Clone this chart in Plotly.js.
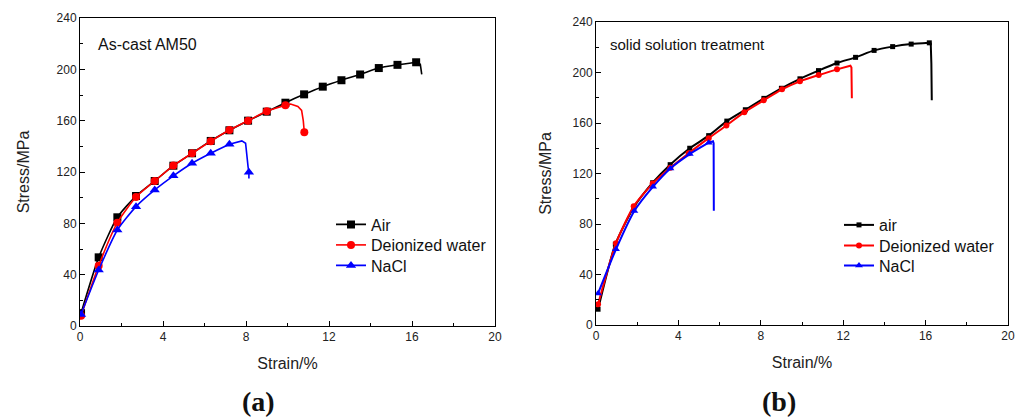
<!DOCTYPE html>
<html>
<head>
<meta charset="utf-8">
<script src="https://cdn.plot.ly/plotly-3.0.1.min.js"></script>
<style>html,body{margin:0;padding:0;background:#fff;}#chart{width:1024px;height:417px;}</style>
</head>
<body>
<div id="chart"></div>
<script>
// ---- Panel (a): As-cast AM50 ----
const seriesNamesA = ["Air", "Deionized water", "NaCl"];
const airA_x = [0.05, 0.9, 1.8, 2.7, 3.6, 4.5, 5.4, 6.3, 7.2, 8.1, 9.0, 9.9, 10.8, 11.7, 12.6, 13.5, 14.4, 15.3, 16.2];
const airA_y = [10, 53.5, 84.7, 101.3, 113, 124.9, 134.6, 144.2, 152.5, 160, 167, 174, 180.5, 186.5, 191.5, 196, 201, 203.5, 205.5];
const airA_tailx = [16.2, 16.4, 16.47];
const airA_taily = [205.5, 204, 196];
const diwA_x = [0.05, 0.9, 1.8, 2.7, 3.6, 4.5, 5.4, 6.3, 7.2, 8.1, 9.0, 9.9];
const diwA_y = [8, 47, 80.5, 100.5, 113, 125, 134.6, 144, 152.7, 160, 167.3, 172];
const diwA_tailx = [9.9, 10.15, 10.5, 10.68, 10.76, 10.81];
const diwA_taily = [172, 173, 171, 168, 160, 151];
const diwA_endx = [10.81];
const diwA_endy = [151];
const naclA_x = [0.05, 0.9, 1.8, 2.7, 3.6, 4.5, 5.4, 6.3, 7.2];
const naclA_y = [9, 43.6, 74.8, 93, 106, 117, 126.8, 134.6, 141.6];
const naclA_tailx = [7.2, 7.8, 7.98, 8.03, 8.1, 8.14, 8.14];
const naclA_taily = [141.6, 144.2, 142.4, 132, 124, 119.8, 115];
const naclA_endx = [8.14];
const naclA_endy = [119.8];

// ---- Panel (b): solid solution treatment ----
const seriesNamesB = ["air", "Deionized water", "NaCl"];
const airB_x = [0.1, 0.94, 1.83, 2.75, 3.6, 4.55, 5.47, 6.35, 7.25, 8.15, 9.0, 9.9, 10.8, 11.7, 12.6, 13.5, 14.4, 15.3, 16.18];
const airB_y = [12.5, 64, 93, 112.7, 127, 140, 150, 161.5, 170.5, 179.5, 187.5, 195, 201.5, 207.5, 212, 217.5, 220.5, 222.5, 223.5];
const airB_tailx = [16.18, 16.25, 16.28, 16.3];
const airB_taily = [223.5, 223, 207, 178];
const diwB_x = [0.1, 0.97, 1.83, 2.75, 3.61, 4.5, 5.47, 6.33, 7.2, 8.14, 9.03, 9.9, 10.81, 11.7];
const diwB_y = [16.4, 64.7, 94, 112, 124.5, 136, 148, 158, 168.6, 178, 186.7, 193, 198, 202.5];
const diwB_tailx = [11.7, 12.35, 12.4, 12.42];
const diwB_taily = [202.5, 205.4, 204, 179.6];
const naclB_x = [0.1, 0.97, 1.86, 2.77, 3.61, 4.55, 5.47];
const naclB_y = [25, 60, 90.3, 109.6, 124, 135.4, 144.4];
const naclB_tailx = [5.47, 5.68, 5.71, 5.72];
const naclB_taily = [144.4, 145.5, 144, 90.5];

const xTicks = [0, 4, 8, 12, 16, 20];
const yTicks = [0, 40, 80, 120, 160, 200, 240];

const FONT = "Arial, 'Liberation Sans', sans-serif";
const colors = ["#000000", "#ff0000", "#0000ff"];
const symbols = ["square", "circle", "triangle-up"];

function mainTrace(x, y, i, name, xa, ya, leg, msize, lw) {
  return {x: x, y: y, name: name, mode: "lines+markers", type: "scatter",
    xaxis: xa, yaxis: ya, legend: leg,
    line: {color: colors[i], width: lw, shape: "spline", smoothing: 0.6},
    marker: {color: colors[i], symbol: symbols[i], size: msize}};
}
function tailTrace(x, y, i, xa, ya, lw) {
  return {x: x, y: y, mode: "lines", type: "scatter", showlegend: false,
    xaxis: xa, yaxis: ya, line: {color: colors[i], width: lw}};
}
function endTrace(x, y, i, xa, ya, msize) {
  return {x: x, y: y, mode: "markers", type: "scatter", showlegend: false,
    xaxis: xa, yaxis: ya, marker: {color: colors[i], symbol: symbols[i], size: msize}};
}

const data = [
  mainTrace(airA_x, airA_y, 0, seriesNamesA[0], "x", "y", "legend", 8, 1.6),
  tailTrace(airA_tailx, airA_taily, 0, "x", "y", 1.6),
  mainTrace(diwA_x, diwA_y, 1, seriesNamesA[1], "x", "y", "legend3", 8, 1.6),
  tailTrace(diwA_tailx, diwA_taily, 1, "x", "y", 1.6),
  endTrace(diwA_endx, diwA_endy, 1, "x", "y", 8),
  mainTrace(naclA_x, naclA_y, 2, seriesNamesA[2], "x", "y", "legend4", 9, 1.6),
  tailTrace(naclA_tailx, naclA_taily, 2, "x", "y", 1.6),
  endTrace(naclA_endx, naclA_endy, 2, "x", "y", 9),

  mainTrace(airB_x, airB_y, 0, seriesNamesB[0], "x2", "y2", "legend2", 5, 2),
  tailTrace(airB_tailx, airB_taily, 0, "x2", "y2", 2),
  mainTrace(diwB_x, diwB_y, 1, seriesNamesB[1], "x2", "y2", "legend5", 6, 2),
  tailTrace(diwB_tailx, diwB_taily, 1, "x2", "y2", 2),
  mainTrace(naclB_x, naclB_y, 2, seriesNamesB[2], "x2", "y2", "legend6", 7, 2),
  tailTrace(naclB_tailx, naclB_taily, 2, "x2", "y2", 2)
];

function xax(domain, anchor) {
  return {domain: domain, anchor: anchor, range: [0, 20], tickvals: xTicks,
    ticks: "inside", ticklen: 5, tickcolor: "#000", showline: true, linecolor: "#000", linewidth: 1,
    mirror: true, showgrid: false, zeroline: false,
    minor: {ticks: "inside", dtick: 2, ticklen: 3, tickcolor: "#000"},
    tickfont: {family: FONT, size: 12, color: "#222"},
    title: {text: "Strain/%", font: {family: FONT, size: 16, color: "#222"}, standoff: 14}};
}
function yax(domain, anchor, standoff) {
  return {domain: domain, anchor: anchor, range: [0, 240], tickvals: yTicks,
    ticks: "inside", ticklen: 5, tickcolor: "#000", showline: true, linecolor: "#000", linewidth: 1,
    mirror: true, showgrid: false, zeroline: false,
    minor: {ticks: "inside", dtick: 20, ticklen: 3, tickcolor: "#000"},
    tickfont: {family: FONT, size: 12, color: "#222"},
    title: {text: "Stress/MPa", font: {family: FONT, size: 16, color: "#222"}, standoff: standoff}};
}
function leg(xpx, toppx) {
  return {x: xpx/1024, y: (417-toppx)/417, xanchor: "left", yanchor: "top",
    font: {family: FONT, size: 16, color: "#111"}, bgcolor: "rgba(0,0,0,0)", itemwidth: 30};
}

const layout = {
  width: 1024, height: 417,
  margin: {l: 0, r: 0, t: 0, b: 0},
  paper_bgcolor: "#fff", plot_bgcolor: "#fff",
  font: {family: FONT, color: "#222"},
  xaxis: xax([80/1024, 495/1024], "y"),
  yaxis: yax([(417-326)/417, (417-18)/417], "x", 22),
  xaxis2: xax([596/1024, 1008/1024], "y2"),
  yaxis2: yax([(417-325)/417, (417-22)/417], "x2", 16),
  legend: leg(331, 207.5),
  legend3: leg(331, 228),
  legend4: leg(331, 248.5),
  legend2: leg(839, 208),
  legend5: leg(839, 228.5),
  legend6: leg(839, 248.5),
  annotations: [
    {text: "As-cast AM50", xref: "paper", yref: "paper", x: 96/1024, y: (417-44)/417,
     xanchor: "left", yanchor: "middle", showarrow: false, font: {family: FONT, size: 16, color: "#111"}},
    {text: "solid solution treatment", xref: "paper", yref: "paper", x: 608/1024, y: (417-44)/417,
     xanchor: "left", yanchor: "middle", showarrow: false, font: {family: FONT, size: 15, color: "#111"}},
    {text: "<b>(a)</b>", xref: "paper", yref: "paper", x: 258/1024, y: (417-401)/417,
     xanchor: "center", yanchor: "middle", showarrow: false, font: {family: "'Liberation Serif', 'DejaVu Serif', serif", size: 28, color: "#111"}},
    {text: "<b>(b)</b>", xref: "paper", yref: "paper", x: 779/1024, y: (417-401)/417,
     xanchor: "center", yanchor: "middle", showarrow: false, font: {family: "'Liberation Serif', 'DejaVu Serif', serif", size: 28, color: "#111"}}
  ],
  showlegend: true
};

Plotly.newPlot("chart", data, layout, {staticPlot: true, displayModeBar: false});
</script>
</body>
</html>
